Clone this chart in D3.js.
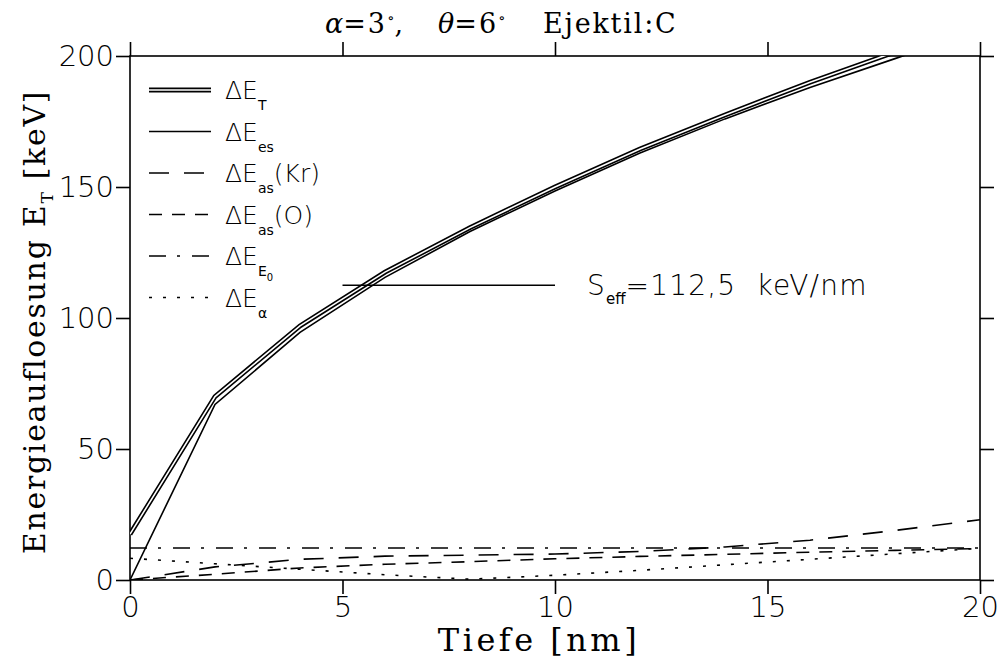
<!DOCTYPE html>
<html>
<head>
<meta charset="utf-8">
<script src="https://cdn.jsdelivr.net/npm/d3@7"></script>
<style>
  html, body { margin: 0; padding: 0; background: #fff; }
  svg { display: block; }
  text { white-space: pre; }
  .num { font-family: "DejaVu Sans", sans-serif; font-weight: 200; }
  .sub { font-weight: 400; }
  .ser { font-family: "DejaVu Serif", serif; }
</style>
</head>
<body>
<svg id="chart" width="999" height="664"></svg>
<script>
// Depth grid [nm]
const depth = [0, 2, 4, 6, 8, 10, 12, 14, 16, 18, 20];
// Energy resolution contributions [keV]
const dE_T     = [17.5, 70, 97, 117.5, 134.5, 150, 164.5, 177.5, 190, 201.5, 213];
const dE_es    = [0, 67, 94.5, 115.5, 133, 148.5, 163, 176, 188, 199, 210];
const dE_asKr  = [0, 5.0, 7.9, 9.1, 9.5, 9.9, 10.9, 12.6, 15.2, 18.9, 23.0];
const dE_asO   = [0, 2.2, 4.6, 6.0, 7.0, 8.1, 9.0, 9.8, 10.6, 11.3, 12.0];
const dE_E0    = [12.2, 12.2, 12.2, 12.2, 12.2, 12.2, 12.2, 12.2, 12.2, 12.2, 12.2];
const dE_alpha = [8.3, 6.2, 4.1, 2.0, 0.3, 1.8, 3.7, 5.8, 7.9, 10.0, 12.1];

// Effective stopping marker
const sEff = 112.5;
const sEffRange = [5, 10];

const xTicks = [0, 5, 10, 15, 20];
const yTicks = [0, 50, 100, 150, 200];

const svg = d3.select("#chart");
const L = 130, R = 980, T = 56, B = 580;
const x = d3.scaleLinear().domain([0, 20]).range([L, R]);
const y = d3.scaleLinear().domain([0, 200]).range([B, T]);

svg.append("defs").append("clipPath").attr("id", "plotclip")
  .append("rect").attr("x", L).attr("y", T).attr("width", R - L).attr("height", B - T);

const tickLen = 14;
const axisStyle = g => {
  g.select(".domain").remove();
  g.selectAll(".tick line").attr("stroke", "#000").attr("stroke-width", 1.6);
  g.selectAll(".tick text").attr("class", "num").attr("font-size", 29).attr("fill", "#000");
};

svg.append("g").attr("transform", `translate(0,${B})`)
  .call(d3.axisBottom(x).tickValues(xTicks).tickSize(tickLen).tickPadding(2).tickFormat(d3.format("d")))
  .call(axisStyle);
svg.append("g").attr("transform", `translate(0,${T})`)
  .call(d3.axisTop(x).tickValues(xTicks).tickSize(tickLen).tickFormat(""))
  .call(axisStyle);
svg.append("g").attr("transform", `translate(${L},0)`)
  .call(d3.axisLeft(y).tickValues(yTicks).tickSize(tickLen).tickPadding(2).tickFormat(d3.format("d")))
  .call(axisStyle);
svg.append("g").attr("transform", `translate(${R},0)`)
  .call(d3.axisRight(y).tickValues(yTicks).tickSize(tickLen).tickFormat(""))
  .call(axisStyle);

svg.selectAll(".tick text").attr("font-family", "DejaVu Sans").attr("font-weight", 200);

// Frame
svg.append("rect").attr("x", L).attr("y", T).attr("width", R - L).attr("height", B - T)
  .attr("fill", "none").attr("stroke", "#000").attr("stroke-width", 1.6);

const plot = svg.append("g").attr("clip-path", "url(#plotclip)");
const line = d3.line().x((d, i) => x(depth[i])).y(d => y(d));

const series = [
  { v: dE_alpha, dash: "3,11" },
  { v: dE_E0, dash: "17,11,3,12" },
  { v: dE_asO, dash: "13,10" },
  { v: dE_asKr, dash: "20,15" },
  { v: dE_es, dash: null }
];
series.forEach(s => {
  plot.append("path").datum(s.v).attr("d", line)
    .attr("fill", "none").attr("stroke", "#000").attr("stroke-width", 1.6)
    .attr("stroke-dasharray", s.dash);
});
// Double line for the total resolution
plot.append("path").datum(dE_T).attr("d", line)
  .attr("fill", "none").attr("stroke", "#000").attr("stroke-width", 4.8);
plot.append("path").datum(dE_T).attr("d", line)
  .attr("fill", "none").attr("stroke", "#fff").attr("stroke-width", 1.6);

// S_eff marker line and label
svg.append("line").attr("x1", x(sEffRange[0])).attr("x2", x(sEffRange[1]))
  .attr("y1", y(sEff)).attr("y2", y(sEff)).attr("stroke", "#000").attr("stroke-width", 1.6);
const st = svg.append("text").attr("class", "num").attr("x", 587).attr("y", y(sEff) + 10)
  .attr("font-size", 28).attr("letter-spacing", 1.2).attr("fill", "#000");
st.append("tspan").text("S");
st.append("tspan").attr("class", "sub").attr("font-size", 15).attr("dy", 9).attr("letter-spacing", 0).text("eff");
st.append("tspan").attr("dy", -9).text("=112,5  keV/nm");

// Legend
const legend = [
  { dash: null, dbl: true, sub: "T", tail: "" },
  { dash: null, sub: "es", tail: "" },
  { dash: "20,15", sub: "as", tail: "(Kr)" },
  { dash: "13,10", sub: "as", tail: "(O)" },
  { dash: "17,11,3,12", sub: "E", sub2: "0", tail: "" },
  { dash: "3,11", sub: "α", tail: "" }
];
const rowY0 = 90, rowDy = 41.5;
legend.forEach((e, i) => {
  const yy = rowY0 + i * rowDy;
  if (e.dbl) {
    svg.append("line").attr("x1", 149).attr("x2", 211).attr("y1", yy).attr("y2", yy)
      .attr("stroke", "#000").attr("stroke-width", 4.8);
    svg.append("line").attr("x1", 149).attr("x2", 211).attr("y1", yy).attr("y2", yy)
      .attr("stroke", "#fff").attr("stroke-width", 1.6);
  } else {
    svg.append("line").attr("x1", 149).attr("x2", 211).attr("y1", yy).attr("y2", yy)
      .attr("stroke", "#000").attr("stroke-width", 1.6).attr("stroke-dasharray", e.dash);
  }
  const t = svg.append("text").attr("class", "num").attr("x", 225).attr("y", yy + 9)
    .attr("font-size", 25).attr("fill", "#000");
  t.append("tspan").text("ΔE");
  t.append("tspan").attr("class", "sub").attr("font-size", 14).attr("dy", 11).text(e.sub);
  let back = -11;
  if (e.sub2) {
    t.append("tspan").attr("class", "sub").attr("font-size", 10).attr("dy", 5).text(e.sub2);
    back = -16;
  }
  if (e.tail) t.append("tspan").attr("dy", back).text(e.tail);
});

// Title: angles and ejectile
const ttl = (xx) => svg.append("text").attr("class", "ser").attr("x", xx).attr("y", 33)
  .attr("font-size", 27).attr("fill", "#000");
const t1 = ttl(325);
t1.append("tspan").attr("font-style", "italic").text("α");
t1.append("tspan").attr("letter-spacing", 2).text("=3");
t1.append("tspan").attr("font-size", 15).attr("dy", -10).text("∘");
t1.append("tspan").attr("dy", 10).text(",");
const t2 = ttl(438);
t2.append("tspan").attr("font-style", "italic").text("θ");
t2.append("tspan").attr("letter-spacing", 2).text("=6");
t2.append("tspan").attr("font-size", 15).attr("dy", -10).text("∘");
ttl(543).attr("letter-spacing", 1.8).text("Ejektil:C");

// Axis titles
svg.append("text").attr("class", "ser").attr("x", 539).attr("y", 651)
  .attr("text-anchor", "middle").attr("font-size", 32).attr("letter-spacing", 3.5).attr("fill", "#000")
  .text("Tiefe [nm]");
const yt = svg.append("text").attr("class", "ser")
  .attr("transform", "translate(45,322) rotate(-90)")
  .attr("text-anchor", "middle").attr("font-size", 30).attr("letter-spacing", 1.7).attr("fill", "#000");
yt.append("tspan").text("Energieaufloesung E");
yt.append("tspan").attr("font-size", 17).attr("dy", 8).text("T");
yt.append("tspan").attr("dy", -8).text(" [keV]");
</script>
</body>
</html>
